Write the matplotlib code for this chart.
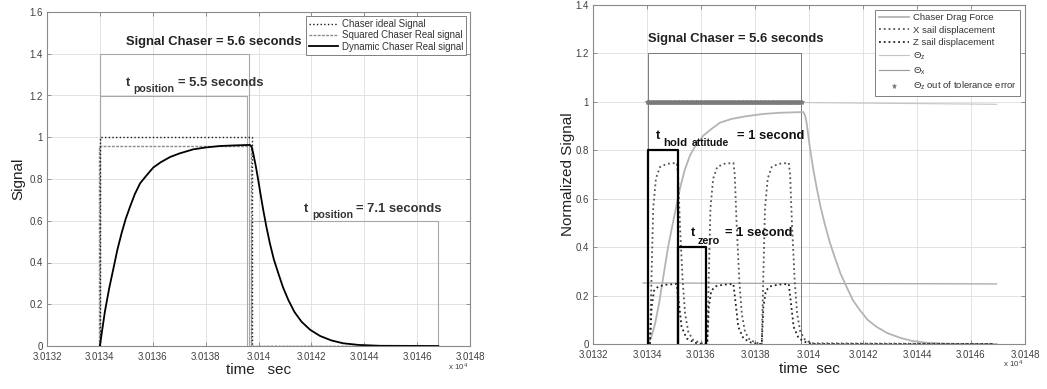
import numpy as np
import matplotlib
matplotlib.use("Agg")
import matplotlib.pyplot as plt
from matplotlib.lines import Line2D
from matplotlib.ticker import FuncFormatter, MultipleLocator

plt.rcParams['font.family'] = ['Liberation Sans', 'DejaVu Sans']
plt.rcParams['mathtext.fontset'] = 'custom'
plt.rcParams['mathtext.rm'] = 'Liberation Sans'
plt.rcParams['mathtext.it'] = 'Liberation Sans:italic'
plt.rcParams['mathtext.bf'] = 'Liberation Sans:bold'

# ---------------- left panel data (time in s, signal) ----------------
ideal_t = [30134.0, 30134.0, 30139.75, 30139.75, 30146.8]
ideal_v = [0.0, 1.0, 1.0, 0.0, 0.0]

squared_t = [30133.97, 30133.97, 30139.70, 30139.70, 30146.8]
squared_v = [0.0, 0.96, 0.96, 0.0, 0.0]

dynamic_t = [30134.0, 30134.19, 30134.35, 30134.51, 30134.66, 30134.82, 30134.98,
             30135.14, 30135.32, 30135.52, 30135.75, 30136.02, 30136.30, 30136.65,
             30137.0, 30137.53, 30138.0, 30138.54, 30139.1, 30139.61, 30139.68,
             30139.74, 30139.80, 30139.90, 30139.99, 30140.08, 30140.18, 30140.30,
             30140.43, 30140.58, 30140.75, 30140.93, 30141.13, 30141.36, 30141.63,
             30141.95, 30142.33, 30142.75, 30143.2, 30143.8, 30144.6, 30146.8]
dynamic_v = [0.0, 0.165, 0.275, 0.37, 0.46, 0.54, 0.61,
             0.667, 0.727, 0.779, 0.815, 0.855, 0.88, 0.905,
             0.922, 0.942, 0.951, 0.958, 0.961, 0.963, 0.963,
             0.955, 0.923, 0.86, 0.795, 0.725, 0.651, 0.57,
             0.492, 0.415, 0.348, 0.28, 0.220, 0.163, 0.116,
             0.078, 0.048, 0.027, 0.013, 0.005, 0.001, 0.0]

# annotation boxes (left)
box14_t = [30134.0, 30134.0, 30139.65, 30139.65]
box14_v = [0.0, 1.4, 1.4, 0.0]
box12_t = [30134.0, 30134.0, 30139.55, 30139.55]
box12_v = [0.0, 1.2, 1.2, 0.0]
box06_t = [30139.72, 30139.72, 30146.8, 30146.8]
box06_v = [0.0, 0.6, 0.6, 0.0]

# ---------------- right panel data ----------------
drag_t = [30134.02, 30134.15, 30134.3, 30134.45, 30134.6, 30134.78, 30134.97,
          30135.22, 30135.4, 30135.59, 30135.8, 30136.08, 30136.35, 30136.7,
          30137.15, 30137.69, 30138.3, 30138.93, 30139.79, 30139.85, 30139.91,
          30140.04, 30140.16, 30140.29, 30140.43, 30140.59, 30140.77, 30140.96,
          30141.17, 30141.4, 30141.63, 30141.89, 30142.17, 30142.5, 30142.9,
          30143.37, 30143.8, 30144.36, 30144.9, 30145.6, 30146.95]
drag_v = [0.0, 0.025, 0.084, 0.17, 0.275, 0.40, 0.506,
          0.642, 0.72, 0.778, 0.82, 0.86, 0.885, 0.914,
          0.93, 0.941, 0.95, 0.955, 0.958, 0.945, 0.914,
          0.806, 0.72, 0.642, 0.565, 0.493, 0.42, 0.356,
          0.29, 0.234, 0.18, 0.139, 0.10, 0.071, 0.045,
          0.026, 0.013, 0.005, 0.002, 0.0, 0.0]

xsail_t = [30134.11, 30134.17, 30134.23, 30134.33, 30134.48, 30134.73, 30135.10,
           30135.15, 30135.22, 30135.32, 30135.41, 30135.53, 30135.71, 30136.03,
           30136.23, 30136.29, 30136.35, 30136.45, 30136.60, 30136.85, 30137.20,
           30137.25, 30137.32, 30137.42, 30137.51, 30137.63, 30137.81, 30138.12,
           30138.25, 30138.31, 30138.37, 30138.47, 30138.62, 30138.87, 30139.25,
           30139.30, 30139.37, 30139.47, 30139.56, 30139.68, 30139.86, 30140.1,
           30146.8]
xsail_v = [0.0, 0.29, 0.56, 0.683, 0.731, 0.744, 0.748,
           0.70, 0.493, 0.261, 0.125, 0.05, 0.016, 0.003,
           0.0, 0.29, 0.56, 0.683, 0.731, 0.744, 0.748,
           0.70, 0.493, 0.261, 0.125, 0.05, 0.016, 0.003,
           0.0, 0.29, 0.56, 0.683, 0.731, 0.744, 0.748,
           0.70, 0.493, 0.261, 0.125, 0.05, 0.016, 0.003,
           0.0]

zsail_t = [30134.11, 30134.17, 30134.26, 30134.42, 30134.71, 30135.10,
           30135.20, 30135.28, 30135.47, 30135.77, 30136.05,
           30136.23, 30136.29, 30136.38, 30136.54, 30136.83, 30137.20,
           30137.30, 30137.38, 30137.57, 30137.87, 30138.15,
           30138.25, 30138.31, 30138.40, 30138.56, 30138.85, 30139.25,
           30139.35, 30139.43, 30139.62, 30139.92, 30140.2,
           30146.8]
zsail_v = [0.0, 0.152, 0.22, 0.238, 0.245, 0.248,
           0.152, 0.071, 0.023, 0.005, 0.0,
           0.0, 0.152, 0.22, 0.238, 0.245, 0.248,
           0.152, 0.071, 0.023, 0.005, 0.0,
           0.0, 0.152, 0.22, 0.238, 0.245, 0.248,
           0.152, 0.071, 0.023, 0.005, 0.0,
           0.0]

thz_t = [30133.93, 30139.8, 30146.95]
thz_v = [1.0, 0.997, 0.99]
thx_t = [30133.85, 30146.95]
thx_v = [0.252, 0.248]

# out of tolerance flag, logged every 0.03 s while the chaser is on
err_t = np.arange(30134.0, 30139.76, 0.03)
err_v = np.ones_like(err_t)

boxr12_t = [30134.02, 30134.02, 30139.72, 30139.72]
boxr12_v = [0.0, 1.2, 1.2, 0.0]
hold_t = [30134.05, 30134.05, 30135.15, 30135.15]
hold_v = [0.0, 0.8, 0.8, 0.0]
zero_t = [30135.15, 30135.15, 30136.18, 30136.18]
zero_v = [0.0, 0.4, 0.4, 0.0]

W, H = 1047, 389
fig = plt.figure(figsize=(W / 100, H / 100), dpi=100)
ax1 = fig.add_axes([47 / W, 43 / H, 423 / W, 334 / H])
ax2 = fig.add_axes([593 / W, 45 / H, 432 / W, 339 / H])


def style_axes(ax, ymax, exp_y):
    ax.set_xlim(30132, 30148)
    ax.set_ylim(0, ymax)
    ax.xaxis.set_major_locator(MultipleLocator(2))
    ax.yaxis.set_major_locator(MultipleLocator(0.2))
    ax.xaxis.set_major_formatter(FuncFormatter(lambda x, p: f'{x / 1e4:g}'))
    ax.yaxis.set_major_formatter(FuncFormatter(lambda y, p: f'{y:g}'))
    ax.grid(True, color='#dedede', lw=0.6)
    ax.set_axisbelow(True)
    ax.tick_params(direction='in', length=3, width=0.6, colors='#808080',
                   labelcolor='#404040', labelsize=7, top=True, right=True)
    ax.tick_params(axis='x', pad=4)
    ax.tick_params(axis='y', pad=3)
    for sp in ax.spines.values():
        sp.set_color('#8a8a8a')
        sp.set_linewidth(0.8)
    # axis multiplier, placed below the last tick label
    ax.text(0.995, exp_y, 'x 10$^{4}$', transform=ax.transAxes, ha='right',
            va='baseline', fontsize=5.8, color='#404040')


def sub_label(ax, x_t, x_sub, x_rest, y_base, y_sub, sub, rest, size, subsize, color):
    ax.text(x_t, y_base, 't', fontsize=size, fontweight='bold', color=color)
    ax.text(x_sub, y_sub, sub, fontsize=subsize, fontweight='bold', color=color)
    ax.text(x_rest, y_base, rest, fontsize=size, fontweight='bold', color=color)


# ---------------- left ----------------
style_axes(ax1, 1.6, -0.072)
for bt, bv in [(box14_t, box14_v), (box12_t, box12_v), (box06_t, box06_v)]:
    ax1.plot(bt, bv, color='#a8a8a8', lw=0.8)
ax1.plot(squared_t, squared_v, color='#8c8c8c', lw=1.0, ls=(0, (2, 1)),
         label='Squared Chaser Real signal')
ax1.plot(ideal_t, ideal_v, color='#1a1a1a', lw=1.0, ls=':', label='Chaser ideal Signal')
ax1.plot(dynamic_t, dynamic_v, color='#000000', lw=1.3, label='Dynamic Chaser Real signal')

ax1.text(30134.99, 1.442, 'Signal Chaser = 5.6 seconds', fontsize=9.4,
         fontweight='bold', color='#222222')
sub_label(ax1, 30134.99, 30135.25, 30136.95, 1.245, 1.218, 'position',
          '= 5.5 seconds', 9.4, 7.6, '#333333')
sub_label(ax1, 30141.72, 30142.02, 30143.69, 0.643, 0.611, 'position',
          '= 7.1 seconds', 9.4, 7.6, '#333333')

ax1.set_ylabel('Signal', fontsize=11, color='#222222')
ax1.yaxis.set_label_coords(-0.052, 0.5)
ax1.set_xlabel('time   sec', fontsize=11, color='#222222')
ax1.xaxis.set_label_coords(0.5, -0.05)

h1 = [Line2D([], [], color='#1a1a1a', lw=1.0, ls=':'),
      Line2D([], [], color='#8c8c8c', lw=1.0, ls=(0, (2, 1))),
      Line2D([], [], color='#000000', lw=1.3)]
l1 = ['Chaser ideal Signal', 'Squared Chaser Real signal', 'Dynamic Chaser Real signal']
leg1 = ax1.legend(h1, l1, loc='upper right', bbox_to_anchor=(0.991, 0.988),
                  fontsize=6.9, frameon=True, fancybox=False, framealpha=1,
                  edgecolor='#808080', handlelength=3.0, handletextpad=0.4,
                  labelspacing=0.15, borderpad=0.3, borderaxespad=0)
leg1.get_frame().set_linewidth(0.7)
for t in leg1.get_texts():
    t.set_color('#333333')

# ---------------- right ----------------
style_axes(ax2, 1.4, -0.07)
ax2.plot(boxr12_t, boxr12_v, color='#7a7a7a', lw=0.7)
ax2.plot(thx_t, thx_v, color='#9a9a9a', lw=0.8)
ax2.plot(thz_t, thz_v, color='#c4c4c4', lw=0.8)
ax2.plot(drag_t, drag_v, color='#b4b4b4', lw=1.3)
ax2.plot(xsail_t, xsail_v, color='#555555', lw=1.3, ls=':')
ax2.plot(zsail_t, zsail_v, color='#222222', lw=1.3, ls=':')
ax2.plot(err_t, err_v, ls='none', marker='*', ms=3.6, color='#7a7a7a', mew=0.4)
ax2.plot(hold_t, hold_v, color='#000000', lw=1.6)
ax2.plot(zero_t, zero_v, color='#000000', lw=1.6)

ax2.text(30134.03, 1.248, 'Signal Chaser = 5.6 seconds', fontsize=9.4,
         fontweight='bold', color='#222222')
ax2.text(30134.33, 0.846, 't', fontsize=9.4, fontweight='bold', color='#111111')
ax2.text(30134.59, 0.816, 'hold', fontsize=8.2, fontweight='bold', color='#111111')
ax2.text(30135.67, 0.816, 'attitude', fontsize=7.4, fontweight='bold', color='#111111')
ax2.text(30137.33, 0.846, '= 1 second', fontsize=9.4, fontweight='bold', color='#111111')
sub_label(ax2, 30135.63, 30135.89, 30136.89, 0.445, 0.415, 'zero',
          '= 1 second', 9.4, 7.8, '#111111')

ax2.set_ylabel('Normalized Signal', fontsize=11, color='#222222')
ax2.yaxis.set_label_coords(-0.042, 0.5)
ax2.set_xlabel('time  sec', fontsize=11, color='#222222')
ax2.xaxis.set_label_coords(0.5, -0.053)

h2 = [Line2D([], [], color='#b4b4b4', lw=1.3),
      Line2D([], [], color='#555555', lw=1.3, ls=':'),
      Line2D([], [], color='#222222', lw=1.3, ls=':'),
      Line2D([], [], color='#c4c4c4', lw=0.8),
      Line2D([], [], color='#9a9a9a', lw=0.8),
      Line2D([], [], ls='none', marker='*', ms=3.6, color='#7a7a7a', mew=0.4)]
l2 = ['Chaser Drag Force', 'X sail displacement', 'Z sail displacement',
      'Θ$_\\mathrm{z}$', 'Θ$_\\mathrm{x}$', 'Θ$_\\mathrm{z}$ out of tolerance error']
leg2 = ax2.legend(h2, l2, loc='upper right', bbox_to_anchor=(0.988, 0.985),
                  fontsize=6.8, frameon=True, fancybox=False, framealpha=1,
                  edgecolor='#808080', handlelength=3.2, handletextpad=0.4,
                  labelspacing=0.35, borderpad=0.35, borderaxespad=0)
leg2.get_frame().set_linewidth(0.7)
for t in leg2.get_texts():
    t.set_color('#333333')

fig.savefig('out.png', dpi=100)
